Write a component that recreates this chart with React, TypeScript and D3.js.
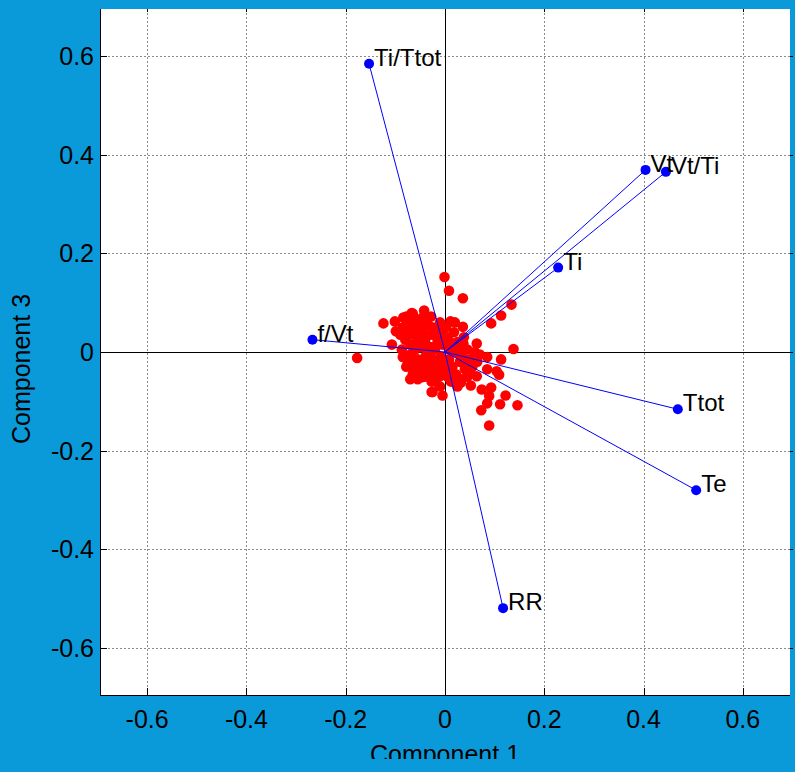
import React, { useEffect, useRef } from "react"
import * as d3 from "d3"

// loadings (component 1, component 3)
const varNames = ["Ti/Ttot", "Vt", "Vt/Ti", "Ti", "f/Vt", "Ttot", "Te", "RR"]
const varX = [-0.153, 0.404, 0.445, 0.228, -0.267, 0.469, 0.506, 0.117]
const varY = [0.584, 0.369, 0.365, 0.171, 0.025, -0.116, -0.280, -0.519]

// scores
const scoreX = [
  -0.001, 0.008, 0.036, 0.134, 0.113, 0.093, 0.011, 0.036, 0.064, 0.138, 0.037,
  -0.124, -0.107, -0.101, -0.084, -0.067, -0.042, -0.099, -0.037, -0.177, -0.087,
  -0.069, -0.062, -0.047, -0.027, -0.027, 0.085, 0.113, 0.085, 0.104, 0.109,
  0.064, 0.032, 0.052, 0.074, 0.093, -0.025, -0.005, 0.089, 0.122, 0.085, 0.111,
  0.146, 0.073, 0.089,
  -0.085, -0.075, -0.068, -0.060, -0.055, -0.050, -0.045, -0.040, -0.035, -0.030,
  -0.025, -0.020, -0.015, -0.010, -0.005, -0.080, -0.070, -0.060, -0.050, -0.090,
  -0.078, -0.065, -0.045, -0.028, -0.020, -0.010,
  -0.085, -0.075, -0.070, -0.060, -0.055, -0.048, -0.040, -0.035, -0.030, -0.025,
  -0.018, -0.012, -0.008, -0.002, -0.065, -0.045, -0.020, -0.010,
  0.005, 0.012, 0.018, 0.025, 0.030, 0.038, 0.045, 0.008, 0.015, 0.022, 0.030,
  0.040, 0.050, 0.055, 0.060, 0.005, 0.012, 0.025, 0.002, 0.020, 0.045, 0.065, 0.070,
  -0.080, -0.072, -0.064, -0.058, -0.052, -0.046, -0.038, -0.032, -0.026, -0.016, -0.008,
  -0.078, -0.066, -0.058, -0.050, -0.042, -0.036, -0.028, -0.022, -0.014, -0.006, -0.070, -0.055,
  0.010, 0.020, 0.028, 0.035, 0.010, 0.018, 0.032, 0.042, 0.050, 0.008, 0.000,
]
const scoreY = [
  0.152, 0.124, 0.109, 0.096, 0.074, 0.058, 0.062, 0.051, 0.017, 0.006, 0.017,
  0.058, 0.015, 0.062, 0.070, 0.079, 0.084, 0.042, 0.066, -0.012, 0.005,
  -0.025, -0.040, -0.051, -0.060, -0.081, -0.010, -0.015, -0.035, -0.039, -0.046,
  -0.049, -0.062, -0.068, -0.076, -0.072, -0.081, -0.088, -0.089, -0.088, -0.104, -0.106,
  -0.108, -0.118, -0.149,
  0.050, 0.060, 0.045, 0.068, 0.030, 0.052, 0.040, 0.020, 0.055, 0.035,
  0.010, 0.045, 0.025, 0.060, 0.015, 0.025, 0.015, 0.005, 0.010, 0.035,
  0.072, 0.078, 0.070, 0.072, 0.005, 0.040,
  -0.010, -0.020, -0.005, -0.030, -0.015, -0.040, -0.010, -0.030, -0.045, -0.020,
  -0.035, -0.050, -0.010, -0.030, -0.045, -0.025, -0.060, -0.070,
  0.030, 0.010, 0.040, 0.020, -0.005, 0.030, 0.005, -0.015, -0.030, -0.045, -0.020,
  -0.035, -0.015, -0.030, 0.000, -0.050, -0.060, -0.070, 0.050, 0.060, -0.050, -0.020, -0.005,
  0.040, 0.035, 0.055, 0.020, 0.040, 0.058, 0.030, 0.010, 0.050, 0.030, 0.025,
  -0.030, -0.012, -0.040, -0.025, -0.050, 0.000, -0.010, -0.040, -0.020, -0.040, -0.055, -0.055,
  0.020, 0.000, 0.012, -0.010, -0.040, -0.050, -0.055, -0.025, -0.040, 0.005, -0.020,
]

const tickValues = [-0.6, -0.4, -0.2, 0, 0.2, 0.4, 0.6]
const tickLabels = ["-0.6", "-0.4", "-0.2", "0", "0.2", "0.4", "0.6"]

export default function App() {
  const ref = useRef<SVGSVGElement>(null)

  useEffect(() => {
    const width = 795
    const height = 772
    const left = 100, right = 790, top = 9, bottom = 695
    const svg = d3.select(ref.current)
    svg.selectAll("*").remove()

    const x = d3.scaleLinear().domain([-0.695, 0.695]).range([left, right])
    const y = d3.scaleLinear().domain([-0.695, 0.695]).range([bottom, top])
    const font = "Arial, 'Liberation Sans', sans-serif"

    svg.append("rect").attr("width", width).attr("height", height).attr("fill", "#0b9ad9")
    svg.append("rect")
      .attr("x", left).attr("y", top)
      .attr("width", right - left).attr("height", bottom - top)
      .attr("fill", "white")

    // grid
    const grid = svg.append("g")
      .attr("stroke", "#8a8a8a").attr("stroke-width", 1).attr("stroke-dasharray", "2,2")
    tickValues.forEach(t => {
      grid.append("line")
        .attr("x1", Math.round(x(t)) + 0.5).attr("x2", Math.round(x(t)) + 0.5)
        .attr("y1", top).attr("y2", bottom)
      grid.append("line")
        .attr("y1", Math.round(y(t)) + 0.5).attr("y2", Math.round(y(t)) + 0.5)
        .attr("x1", left).attr("x2", right)
    })

    // zero lines
    svg.append("line")
      .attr("x1", Math.round(x(0)) + 0.5).attr("x2", Math.round(x(0)) + 0.5)
      .attr("y1", top).attr("y2", bottom).attr("stroke", "black")
    svg.append("line")
      .attr("x1", left).attr("x2", right)
      .attr("y1", Math.round(y(0)) + 0.5).attr("y2", Math.round(y(0)) + 0.5)
      .attr("stroke", "black")

    // axes frame + ticks
    const ax = svg.append("g").attr("stroke", "black").attr("stroke-width", 1)
    ax.append("line").attr("x1", left + 0.5).attr("x2", left + 0.5).attr("y1", top).attr("y2", bottom + 1)
    ax.append("line").attr("x1", left).attr("x2", right).attr("y1", bottom + 0.5).attr("y2", bottom + 0.5)
    tickValues.forEach(t => {
      const px = Math.round(x(t)) + 0.5
      const py = Math.round(y(t)) + 0.5
      ax.append("line").attr("x1", px).attr("x2", px).attr("y1", bottom).attr("y2", bottom - 7)
      ax.append("line").attr("x1", px).attr("x2", px).attr("y1", top).attr("y2", top + 3)
      ax.append("line").attr("x1", left).attr("x2", left + 7).attr("y1", py).attr("y2", py)
      ax.append("line").attr("x1", right).attr("x2", right + 3).attr("y1", py).attr("y2", py)
    })

    // tick labels
    svg.append("g").selectAll("text").data(tickValues).enter().append("text")
      .attr("x", d => x(d)).attr("y", bottom + 33)
      .attr("text-anchor", "middle")
      .attr("font-family", font).attr("font-size", 25)
      .text((d, i) => tickLabels[i])
    svg.append("g").selectAll("text").data(tickValues).enter().append("text")
      .attr("x", left - 6).attr("y", d => y(d) + 9)
      .attr("text-anchor", "end")
      .attr("font-family", font).attr("font-size", 25)
      .text((d, i) => tickLabels[i])

    // axis labels
    svg.append("clipPath").attr("id", "cut")
      .append("rect").attr("x", 0).attr("y", 0).attr("width", width).attr("height", 759)
    svg.append("text")
      .attr("x", x(0)).attr("y", 763)
      .attr("text-anchor", "middle")
      .attr("font-family", font).attr("font-size", 25)
      .attr("clip-path", "url(#cut)")
      .text("Component 1")
    svg.append("text")
      .attr("transform", "translate(30," + 369 + ") rotate(-90)")
      .attr("text-anchor", "middle")
      .attr("font-family", font).attr("font-size", 25)
      .text("Component 3")

    // scores
    const scores = scoreX.map((v, i) => [v, scoreY[i]])
    svg.append("g").selectAll("circle").data(scores).enter().append("circle")
      .attr("cx", d => x(d[0])).attr("cy", d => y(d[1]))
      .attr("r", 5.3).attr("fill", "#ff0000")

    // loadings
    const vars = varNames.map((n, i) => ({ name: n, x: varX[i], y: varY[i] }))
    const vg = svg.append("g")
    vg.selectAll("line").data(vars).enter().append("line")
      .attr("x1", x(0)).attr("y1", y(0))
      .attr("x2", d => x(d.x)).attr("y2", d => y(d.y))
      .attr("stroke", "#0000ff").attr("stroke-width", 1)
    vg.selectAll("circle").data(vars).enter().append("circle")
      .attr("cx", d => x(d.x)).attr("cy", d => y(d.y))
      .attr("r", 5).attr("fill", "#0000ff")
    vg.selectAll("text").data(vars).enter().append("text")
      .attr("x", d => x(d.x) + 5).attr("y", d => y(d.y) + 2)
      .attr("font-family", font).attr("font-size", 24)
      .text(d => d.name)
  }, [])

  return (
    <svg ref={ref} width={795} height={772}
      style={{ position: "absolute", left: 0, top: 0, display: "block" }} />
  )
}
